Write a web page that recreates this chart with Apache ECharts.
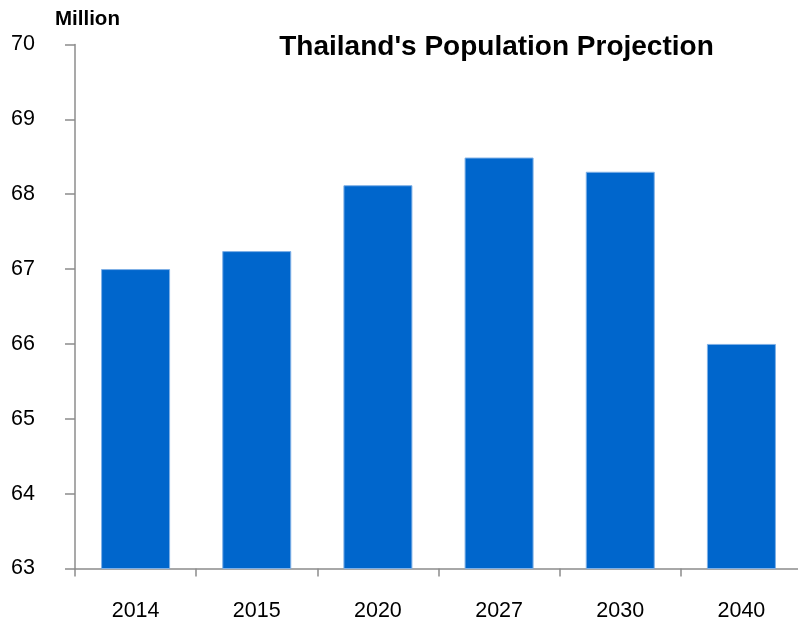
<!DOCTYPE html>
<html>
<head>
<meta charset="utf-8">
<script src="https://cdn.jsdelivr.net/npm/echarts@6/dist/echarts.min.js"></script>
<style>
  html, body { margin: 0; padding: 0; background: #fff; }
  #chart { width: 798px; height: 622px; }
</style>
</head>
<body>
<div id="chart"></div>
<script>
// Projected population of Thailand, millions
const years = ['2014', '2015', '2020', '2027', '2030', '2040'];
const population = [67.0, 67.24, 68.12, 68.49, 68.30, 66.0];
const yTicks = { min: 63, max: 70, step: 1 };

const chart = echarts.init(document.getElementById('chart'));
const font = 'Liberation Sans, Arial, sans-serif';
const axisGray = '#8c8c8c';

chart.setOption({
  animation: false,
  backgroundColor: '#fff',
  title: [
    {
      text: "Thailand's Population Projection",
      left: 491.5, top: 28, textAlign: 'center',
      textStyle: { fontFamily: font, fontSize: 28, fontWeight: 'bold', color: '#000' }
    },
    {
      text: 'Million',
      left: 50, top: 4,
      textStyle: { fontFamily: font, fontSize: 20.5, fontWeight: 'bold', color: '#000' }
    }
  ],
  grid: { left: 75, top: 44.5, width: 727, height: 524, outerBoundsMode: 'none', containLabel: false },
  xAxis: {
    type: 'category',
    data: years,
    axisLine: { lineStyle: { color: axisGray, width: 1.5 } },
    axisTick: { show: true, alignWithLabel: false, length: 8, lineStyle: { color: axisGray, width: 1.5 } },
    axisLabel: { fontFamily: font, fontSize: 21.5, color: '#000', margin: 32 }
  },
  yAxis: {
    type: 'value',
    min: yTicks.min, max: yTicks.max, interval: yTicks.step,
    axisLine: { show: true, lineStyle: { color: axisGray, width: 1.5 } },
    axisTick: { show: true, length: 10, lineStyle: { color: axisGray, width: 1.5 } },
    axisLabel: { fontFamily: font, fontSize: 21.5, color: '#000', margin: 40 },
    splitLine: { show: false }
  },
  series: [{
    type: 'bar',
    data: population,
    barWidth: 69,
    itemStyle: { color: '#0066cc', borderColor: '#7fb0e6', borderWidth: 1 }
  }]
});
</script>
</body>
</html>
